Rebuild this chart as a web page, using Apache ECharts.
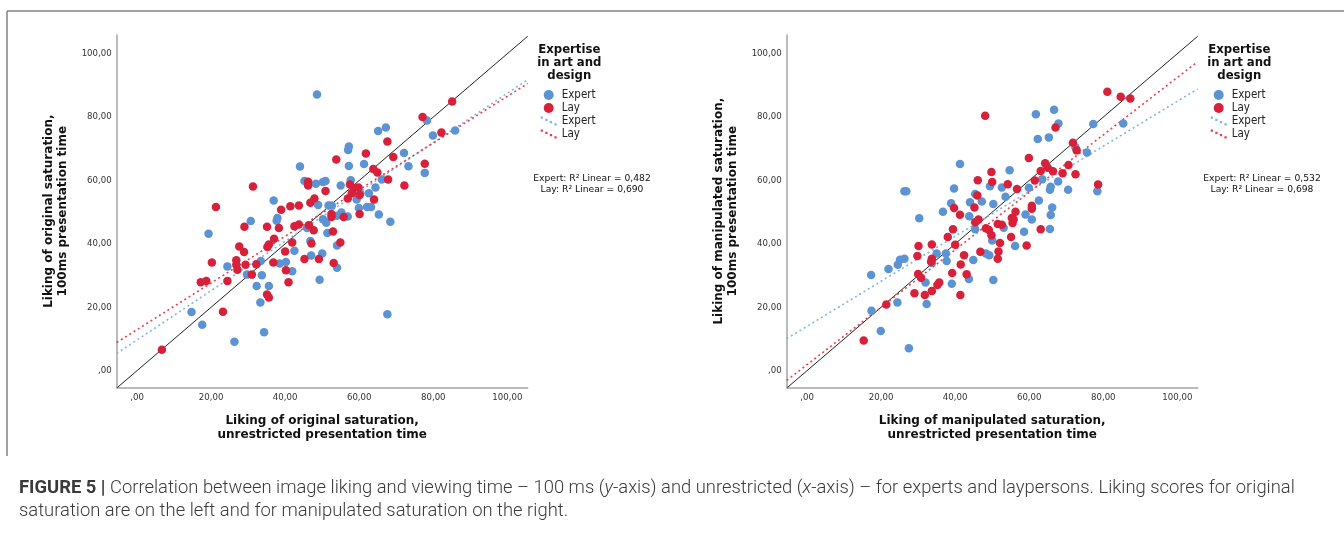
<!DOCTYPE html>
<html>
<head>
<meta charset="utf-8">
<title>Figure 5</title>
<script src="https://cdn.jsdelivr.net/npm/echarts@6/dist/echarts.min.js"></script>
<style>
html, body {margin: 0; padding: 0; background: #fff;}
#chart {width: 1344px; height: 540px;}
</style>
</head>
<body>
<div id="chart"></div>
<script>
// DATA
const tick_values = [0, 20, 40, 60, 80, 100];
const group_names = ["Expert", "Lay"];
const r2_orig = [0.482, 0.690];
const r2_manip = [0.532, 0.698];

// y = x reference
const identity_line = [[-5.5, -5.5], [105.5, 105.5]];

// original saturation: [unrestricted, 100ms]
const orig_expert = [[48.6,87.1],[78.3,78.9],[65.1,75.6],[67.2,76.7],[57.2,70.7],[57.0,69.6],[79.9,74.2],[85.9,75.8],[72.1,68.7],[73.3,64.5],[77.7,62.4],[61.3,65.2],[57.2,64.6],[44.0,64.4],[45.2,59.8],[48.3,59.0],[50.2,59.5],[50.9,59.8],[57.7,60.1],[55.0,58.4],[59.3,54.0],[60.3,56.0],[62.6,56.0],[64.4,57.8],[66.1,60.3],[62.1,51.6],[63.2,51.6],[59.9,51.3],[65.3,49.3],[68.4,47.0],[48.9,52.3],[51.7,52.1],[52.6,52.1],[55.2,49.9],[54.0,48.9],[56.9,48.6],[50.2,47.8],[51.1,46.7],[45.9,45.0],[51.4,43.4],[36.9,53.7],[37.9,48.2],[37.7,47.3],[30.7,47.2],[19.3,43.2],[46.8,40.9],[54.0,39.5],[42.5,37.8],[47.0,36.3],[50.0,37.0],[33.4,34.6],[38.5,33.8],[40.2,34.3],[41.9,31.4],[54.0,32.5],[24.4,32.9],[29.7,30.3],[33.7,30.1],[32.3,26.7],[35.6,26.7],[49.3,28.7],[33.3,21.5],[14.7,18.5],[17.6,14.5],[34.3,12.1],[26.3,9.1],[67.6,17.8]];
const orig_lay = [[85.1,84.9],[77.1,80.0],[82.2,75.1],[67.6,72.3],[61.8,68.5],[69.2,67.4],[53.8,66.6],[77.7,65.3],[63.8,63.6],[64.9,62.5],[67.8,60.3],[72.2,58.4],[31.3,58.1],[46.2,59.6],[46.2,58.4],[50.9,56.7],[47.9,54.3],[46.8,53.0],[43.7,52.1],[41.4,51.9],[38.9,50.8],[21.3,51.6],[57.5,58.7],[58.6,57.6],[59.8,57.8],[58.0,56.0],[56.9,54.3],[60.1,55.4],[64.0,54.0],[60.1,49.4],[52.5,49.4],[52.5,48.5],[55.8,48.5],[46.4,45.9],[42.5,45.6],[43.7,46.1],[35.1,45.4],[38.3,45.0],[29.0,45.4],[47.7,44.3],[52.9,43.9],[37.0,41.6],[35.6,39.8],[35.2,39.0],[41.9,40.4],[47.1,40.1],[54.9,40.4],[27.6,39.2],[28.9,37.4],[40.0,37.6],[26.8,34.8],[26.8,33.4],[27.1,31.8],[20.2,34.1],[29.3,33.4],[32.2,33.6],[36.8,34.1],[45.2,35.2],[49.1,35.2],[53.1,34.0],[40.2,31.7],[31.0,30.3],[17.2,27.9],[18.7,28.3],[24.4,28.3],[40.9,27.9],[35.1,24.0],[35.6,23.1],[23.2,18.6],[6.7,6.6]];

// manipulated saturation
const manip_expert = [[61.8,80.9],[66.7,82.3],[67.9,78.0],[77.3,77.8],[85.4,78.0],[62.3,73.1],[65.3,73.6],[75.6,68.8],[72.5,70.5],[41.3,65.2],[54.7,63.2],[49.4,58.2],[52.6,57.8],[39.7,57.5],[26.3,56.6],[26.8,56.6],[59.9,57.7],[67.8,59.7],[65.8,58.0],[65.6,57.1],[70.5,57.1],[78.4,56.6],[63.5,60.4],[62.6,53.7],[66.2,51.5],[65.8,49.1],[65.6,44.7],[60.7,47.7],[59.0,49.3],[58.6,43.8],[56.2,39.3],[50.3,52.6],[53.6,54.9],[45.4,55.7],[47.2,53.4],[44.0,53.1],[38.9,52.8],[36.7,50.1],[43.8,48.7],[45.4,44.6],[53.1,45.1],[50.0,41.1],[30.3,48.1],[49.2,36.4],[48.3,37.0],[44.9,34.9],[37.7,34.6],[37.5,37.0],[35.0,37.0],[33.7,34.0],[26.3,35.3],[25.1,35.0],[24.5,33.4],[22.0,32.1],[17.3,30.2],[32.0,27.8],[39.1,27.4],[43.7,28.9],[50.3,28.6],[32.3,21.0],[24.4,21.5],[17.4,18.9],[19.9,12.5],[27.5,7.1]];
const manip_lay = [[81.1,88.0],[84.7,86.4],[87.3,85.9],[48.1,80.4],[67.1,76.7],[71.8,71.9],[72.8,69.5],[59.9,67.1],[64.3,65.4],[65.0,64.0],[70.6,64.9],[63.1,63.0],[66.4,62.9],[69.0,62.3],[72.5,62.0],[49.8,62.7],[50.0,59.5],[46.1,60.1],[54.2,58.8],[61.5,60.0],[56.7,57.3],[78.6,58.7],[46.0,55.3],[45.2,51.5],[39.7,51.3],[41.3,49.2],[60.7,52.0],[60.7,51.1],[56.3,50.1],[46.3,47.7],[45.4,46.8],[55.3,48.2],[55.8,47.7],[55.5,46.6],[39.4,44.6],[48.3,44.9],[49.1,44.4],[49.8,42.7],[51.5,46.3],[52.6,46.0],[63.1,44.6],[55.1,42.2],[38.0,42.2],[40.0,39.7],[52.1,40.3],[51.7,37.6],[59.3,39.5],[30.1,39.3],[33.7,39.8],[46.8,37.5],[29.8,36.2],[42.4,36.4],[51.5,35.3],[33.7,35.3],[33.5,34.4],[41.5,33.5],[30.0,30.5],[30.8,29.3],[39.2,30.8],[43.1,30.4],[35.7,27.8],[35.2,27.0],[33.7,25.1],[29.0,24.4],[31.8,23.9],[41.4,23.9],[21.4,20.9],[15.3,9.5]];

// linear fit lines, endpoints at the axis edges
const orig_fit_expert = [[-5.5, 5.4], [105.5, 91.8]];
const orig_fit_lay = [[-5.5, 8.9], [105.5, 90.6]];
const manip_fit_expert = [[-5.5, 10.1], [105.5, 88.9]];
const manip_fit_lay = [[-5.5, -3.1], [105.5, 97.5]];


const dot_colors = {Expert: "#5b93d3", Lay: "#d7203a"};
const fit_colors = {Expert: "#82b3e6", Lay: "#e0434f"};
const axis_font = "'DejaVu Sans', sans-serif";
const legend_font = "'DejaVu Sans Condensed', 'DejaVu Sans', sans-serif";
// slanted dotted stroke, as in the SPSS legend
const dotted_icon = "path://M0,0h2.4v2.4h-2.4z M4.8,2.4h2.4v2.4h-2.4z M9.6,4.8h2.4v2.4h-2.4z M14.4,7.2h2.4v2.4h-2.4z";


function tickLabel(v){
    return v === 0 ? ",00" : v + ",00";
}

function r2Text(values){
    const fmt = (v) => v.toFixed(3).replace(".", ",");
    return "Expert: R\u00B2 Linear = " + fmt(values[0]) + "\nLay: R\u00B2 Linear = " + fmt(values[1]);
}

function makeXAxis(grid_index, title){
    return {
        gridIndex: grid_index, type: "value", min: -5.5, max: 105.5,
        axisLine: {onZero: false, lineStyle: {color: "#a4a4a4", width: 1.5}},
        axisTick: {show: false}, splitLine: {show: false},
        axisLabel: {customValues: tick_values, formatter: tickLabel, color: "#333", fontSize: 8.6, fontFamily: axis_font, margin: 6},
        name: title, nameLocation: "middle", nameGap: 27,
        nameTextStyle: {fontFamily: axis_font, fontWeight: "bold", fontSize: 12, lineHeight: 14, color: "#111"}
    };
}

function makeYAxis(grid_index, title){
    return {
        gridIndex: grid_index, type: "value", min: -5.25, max: 105.9,
        axisLine: {onZero: false, lineStyle: {color: "#a4a4a4", width: 1.5}},
        axisTick: {show: false}, splitLine: {show: false},
        axisLabel: {customValues: tick_values, formatter: tickLabel, color: "#333", fontSize: 8.6, fontFamily: axis_font, margin: 5},
        name: title, nameLocation: "middle", nameGap: 47,
        nameTextStyle: {fontFamily: axis_font, fontWeight: "bold", fontSize: 12, lineHeight: 14, color: "#111"}
    };
}

function panelSeries(idx, expert, lay, fit_expert, fit_lay){
    const axes = {xAxisIndex: idx, yAxisIndex: idx};
    const fit = (name, data) => ({
        type: "line", name: name + " ", data, ...axes, symbol: "none", silent: true, z: 2,
        lineStyle: {type: [2, 3], width: 1.6, color: fit_colors[name]}, itemStyle: {color: fit_colors[name]}
    });
    const dots = (name, data) => ({
        type: "scatter", name, data, ...axes, symbolSize: 8.5, z: 3,
        itemStyle: {color: dot_colors[name], opacity: 1}
    });
    return [
        {type: "line", name: "y=x", data: identity_line, ...axes, symbol: "none", silent: true, z: 2,
         lineStyle: {color: "#222", width: 1}},
        fit("Expert", fit_expert),
        fit("Lay", fit_lay),
        dots("Expert", expert),
        dots("Lay", lay)
    ];
}

function makeLegend(left){
    return {
        left, top: 89, orient: "vertical", padding: 0, itemGap: 1,
        itemWidth: 16, itemHeight: 10, selectedMode: false,
        data: [
            {name: group_names[0], icon: "circle"},
            {name: group_names[1], icon: "circle"},
            {name: group_names[0] + " ", icon: dotted_icon},
            {name: group_names[1] + " ", icon: dotted_icon}
        ],
        textStyle: {fontFamily: legend_font, fontSize: 11.5, color: "#222", lineHeight: 12}
    };
}

function textEl(x, y, text, font, align, line_height){
    return {type: "text", x, y, silent: true,
            style: {text, font, align, verticalAlign: "top", lineHeight: line_height, fill: "#111"}};
}

function buildOption(){
    const caption_font = {fontFamily: "Roboto, 'Liberation Sans', sans-serif", fontSize: 18.4};
    return {
        animation: false,
        backgroundColor: "#fff",
        grid: [
            {left: 116.7, top: 35, width: 411, height: 352.3},
            {left: 786.7, top: 35, width: 411, height: 352.3}
        ],
        xAxis: [
            makeXAxis(0, "Liking of original saturation,\nunrestricted presentation time"),
            makeXAxis(1, "Liking of manipulated saturation,\nunrestricted presentation time")
        ],
        yAxis: [
            makeYAxis(0, "Liking of original saturation,\n100ms presentation time"),
            makeYAxis(1, "Liking of manipulated saturation,\n100ms presentation time")
        ],
        legend: [makeLegend(540.7), makeLegend(1210.7)],
        series: [
            ...panelSeries(0, orig_expert, orig_lay, orig_fit_expert, orig_fit_lay),
            ...panelSeries(1, manip_expert, manip_lay, manip_fit_expert, manip_fit_lay)
        ],
        graphic: [
            // FRAME
            {type: "line", silent: true, shape: {x1: 7, y1: 11, x2: 1344, y2: 11}, style: {stroke: "#858585", lineWidth: 1.5}},
            {type: "line", silent: true, shape: {x1: 7, y1: 11, x2: 7, y2: 456}, style: {stroke: "#858585", lineWidth: 1.5}},
            // LEGEND TITLES
            textEl(569.3, 43.5, "Expertise\nin art and\ndesign", "bold 13px " + legend_font, "center", 13),
            textEl(1239.3, 43.5, "Expertise\nin art and\ndesign", "bold 13px " + legend_font, "center", 13),
            // R SQUARED
            textEl(592, 173.8, r2Text(r2_orig), "9.2px " + axis_font, "center", 10.5),
            textEl(1262, 173.8, r2Text(r2_manip), "9.2px " + axis_font, "center", 10.5),
            // CAPTION
            {type: "text", x: 19, y: 476.5, silent: true, style: {
                text: "{b|FIGURE 5} {bar||} Correlation between image liking and viewing time \u2013 100 ms ({i|y}-axis) and unrestricted ({i|x}-axis) \u2013 for experts and laypersons. Liking scores for original\nsaturation are on the left and for manipulated saturation on the right.",
                ...caption_font, fontWeight: 300, fill: "#3a3a3a", lineHeight: 23, verticalAlign: "top",
                rich: {
                    b: {...caption_font, fontWeight: "bold", fill: "#3a3a3a", lineHeight: 23},
                    bar: {...caption_font, fontWeight: "bold", fill: "#3a3a3a", lineHeight: 23},
                    i: {...caption_font, fontWeight: 300, fontStyle: "italic", fill: "#3a3a3a", lineHeight: 23}
                }
            }}
        ]
    };
}


const chart = echarts.init(document.getElementById("chart"), null, {renderer: "canvas"});
chart.setOption(buildOption());
</script>
</body>
</html>
